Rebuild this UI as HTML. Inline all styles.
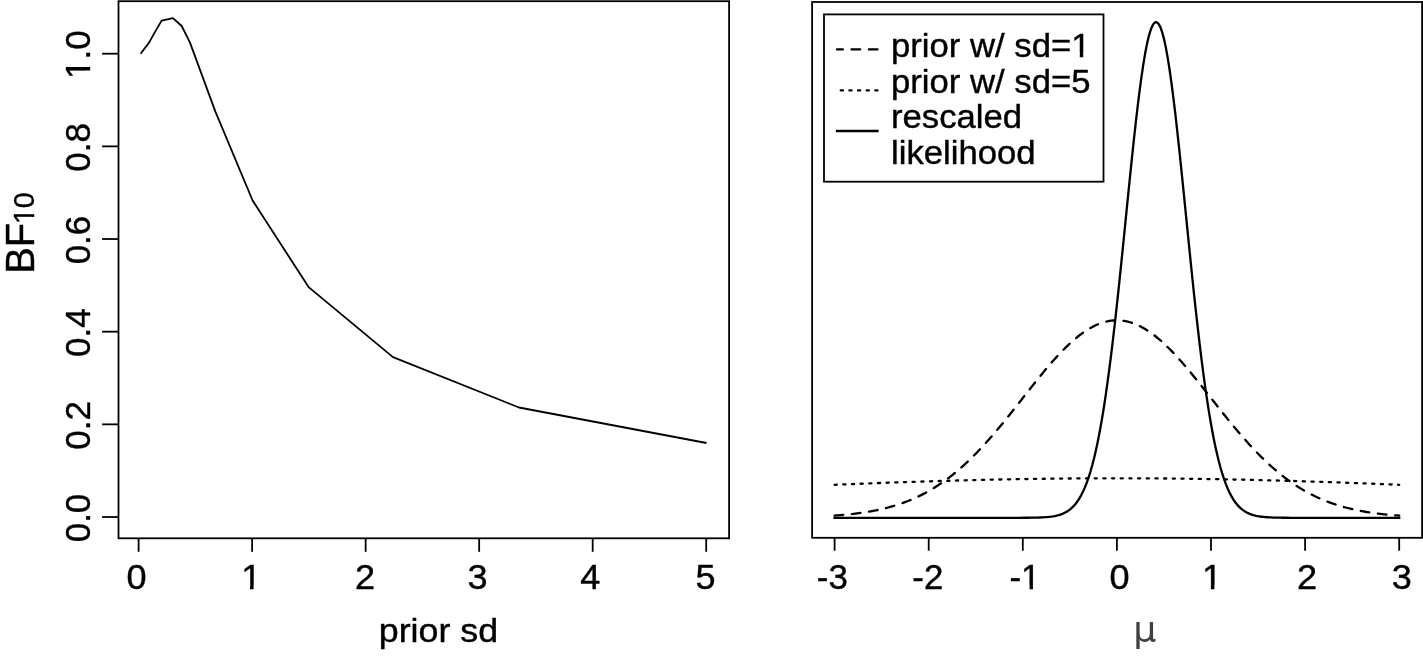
<!DOCTYPE html>
<html lang="en"><head><meta charset="utf-8"><title>BF10 vs prior sd</title>
<style>html,body{margin:0;padding:0;background:#fff;}body{width:1423px;height:662px;overflow:hidden;}svg{display:block;}text{font-family:"Liberation Sans",sans-serif;fill:#000;}</style>
</head><body>
<svg width="1423" height="662" viewBox="0 0 1423 662">
<rect x="0" y="0" width="1423" height="662" fill="#fff"/>
<defs><clipPath id="ct2" clipPathUnits="userSpaceOnUse"><path clip-rule="evenodd" d="M-400,-400H400V400H-400ZM-8.08,-4.04H-1.12V3.00H-8.08ZM2.36,-4.04H9.27V3.00H2.36Z"/></clipPath><clipPath id="ct13" clipPathUnits="userSpaceOnUse"><path clip-rule="evenodd" d="M-400,-400H400V400H-400ZM-22.57,-4.01H-15.70V3.00H-22.57ZM-12.25,-4.01H-5.42V3.00H-12.25Z"/></clipPath><clipPath id="ct15" clipPathUnits="userSpaceOnUse"><path clip-rule="evenodd" d="M-400,-400H400V400H-400ZM1.47,-3.59H7.19V3.00H1.47ZM10.14,-3.59H15.82V3.00H10.14Z"/></clipPath><clipPath id="ct18" clipPathUnits="userSpaceOnUse"><path clip-rule="evenodd" d="M-400,-400H400V400H-400ZM-2.19,-4.04H4.76V3.00H-2.19ZM8.25,-4.04H15.16V3.00H8.25Z"/></clipPath><clipPath id="ct20" clipPathUnits="userSpaceOnUse"><path clip-rule="evenodd" d="M-400,-400H400V400H-400ZM-8.08,-4.04H-1.12V3.00H-8.08ZM2.36,-4.04H9.27V3.00H2.36Z"/></clipPath><clipPath id="ct23" clipPathUnits="userSpaceOnUse"><path clip-rule="evenodd" d="M-400,-400H400V400H-400ZM175.67,-3.90H182.24V3.00H175.67ZM185.56,-3.90H192.09V3.00H185.56Z"/></clipPath></defs>
<g fill="none" stroke="#000" stroke-width="1.80" stroke-linecap="butt">
<rect x="118.50" y="1.20" width="610.60" height="537.10"/>
<line x1="138.60" y1="538.30" x2="138.60" y2="551.80"/>
<line x1="252.12" y1="538.30" x2="252.12" y2="551.80"/>
<line x1="365.64" y1="538.30" x2="365.64" y2="551.80"/>
<line x1="479.16" y1="538.30" x2="479.16" y2="551.80"/>
<line x1="592.68" y1="538.30" x2="592.68" y2="551.80"/>
<line x1="706.20" y1="538.30" x2="706.20" y2="551.80"/>
<line x1="102.10" y1="517.00" x2="118.50" y2="517.00"/>
<line x1="102.10" y1="424.34" x2="118.50" y2="424.34"/>
<line x1="102.10" y1="331.68" x2="118.50" y2="331.68"/>
<line x1="102.10" y1="239.02" x2="118.50" y2="239.02"/>
<line x1="102.10" y1="146.36" x2="118.50" y2="146.36"/>
<line x1="102.10" y1="53.70" x2="118.50" y2="53.70"/>
</g>
<polyline fill="none" stroke="#000" stroke-width="1.8" stroke-linejoin="round" stroke-linecap="butt" points="140.6,53.7 148.9,42.9 154.2,33.4 161.6,20.6 172.9,18.1 181.7,26.0 190.0,42.6 215.4,111.6 252.6,200.5 308.6,287.1 393.0,357.1 519.0,407.5 706.5,443.0"/>
<text id="t1" transform="translate(136.55,589.25) scale(1.0200,1.0000)" font-size="35.40" text-anchor="middle" stroke="#000" stroke-width="0.40" stroke-linejoin="round">0</text>
<text id="t2" transform="translate(251.20,589.25) scale(1.0200,1.0000)" font-size="35.40" text-anchor="middle" stroke="#000" stroke-width="0.40" stroke-linejoin="round" clip-path="url(#ct2)">1</text>
<text id="t3" transform="translate(364.95,589.25) scale(1.0200,1.0000)" font-size="35.40" text-anchor="middle" stroke="#000" stroke-width="0.40" stroke-linejoin="round">2</text>
<text id="t4" transform="translate(477.45,589.25) scale(1.0200,1.0000)" font-size="35.40" text-anchor="middle" stroke="#000" stroke-width="0.40" stroke-linejoin="round">3</text>
<text id="t5" transform="translate(590.20,589.25) scale(1.0200,1.0000)" font-size="35.40" text-anchor="middle" stroke="#000" stroke-width="0.40" stroke-linejoin="round">4</text>
<text id="t6" transform="translate(705.60,589.25) scale(1.0200,1.0000)" font-size="35.40" text-anchor="middle" stroke="#000" stroke-width="0.40" stroke-linejoin="round">5</text>
<text id="t7" transform="translate(438.40,641.80) scale(1.0780,1.0000)" font-size="33.20" text-anchor="middle" stroke="#000" stroke-width="0.40" stroke-linejoin="round">prior sd</text>
<text id="t8" transform="translate(90.00,518.00) rotate(-90) scale(1.0000,1.0150)" font-size="35.00" text-anchor="middle" stroke="#000" stroke-width="0.40" stroke-linejoin="round">0.0</text>
<text id="t9" transform="translate(90.00,425.34) rotate(-90) scale(1.0000,1.0150)" font-size="35.00" text-anchor="middle" stroke="#000" stroke-width="0.40" stroke-linejoin="round">0.2</text>
<text id="t10" transform="translate(90.00,332.68) rotate(-90) scale(1.0000,1.0150)" font-size="35.00" text-anchor="middle" stroke="#000" stroke-width="0.40" stroke-linejoin="round">0.4</text>
<text id="t11" transform="translate(90.00,240.02) rotate(-90) scale(1.0000,1.0150)" font-size="35.00" text-anchor="middle" stroke="#000" stroke-width="0.40" stroke-linejoin="round">0.6</text>
<text id="t12" transform="translate(90.00,147.36) rotate(-90) scale(1.0000,1.0150)" font-size="35.00" text-anchor="middle" stroke="#000" stroke-width="0.40" stroke-linejoin="round">0.8</text>
<text id="t13" transform="translate(90.00,54.70) rotate(-90) scale(1.0000,1.0150)" font-size="35.00" text-anchor="middle" stroke="#000" stroke-width="0.40" stroke-linejoin="round" clip-path="url(#ct13)">1.0</text>
<text id="t14" transform="translate(34.00,273.80) rotate(-90) scale(0.9800,1.0000)" font-size="40.60" text-anchor="start" stroke="#000" stroke-width="0.40" stroke-linejoin="round">BF</text>
<text id="t15" transform="translate(34.40,224.00) rotate(-90) scale(0.9700,1.0000)" font-size="29.30" text-anchor="start" stroke="#000" stroke-width="0.40" stroke-linejoin="round" clip-path="url(#ct15)">10</text>
<g fill="none" stroke="#000" stroke-width="1.80" stroke-linecap="butt">
<rect x="812.10" y="2.00" width="610.00" height="535.80"/>
<line x1="834.60" y1="537.80" x2="834.60" y2="550.70"/>
<line x1="928.70" y1="537.80" x2="928.70" y2="550.70"/>
<line x1="1022.80" y1="537.80" x2="1022.80" y2="550.70"/>
<line x1="1116.90" y1="537.80" x2="1116.90" y2="550.70"/>
<line x1="1211.00" y1="537.80" x2="1211.00" y2="550.70"/>
<line x1="1305.10" y1="537.80" x2="1305.10" y2="550.70"/>
<line x1="1399.20" y1="537.80" x2="1399.20" y2="550.70"/>
</g>
<g fill="none" stroke="#000" stroke-width="2.30" stroke-linejoin="round">
<path stroke-linecap="round" stroke-dasharray="8.66 8.66" d="M834.60,515.61 L836.48,515.47 L838.36,515.33 L840.25,515.18 L842.13,515.02 L844.01,514.85 L845.89,514.68 L847.77,514.49 L849.66,514.30 L851.54,514.10 L853.42,513.88 L855.30,513.66 L857.18,513.42 L859.07,513.17 L860.95,512.91 L862.83,512.64 L864.71,512.36 L866.59,512.06 L868.48,511.75 L870.36,511.42 L872.24,511.08 L874.12,510.72 L876.00,510.35 L877.89,509.96 L879.77,509.55 L881.65,509.12 L883.53,508.68 L885.41,508.22 L887.30,507.74 L889.18,507.24 L891.06,506.71 L892.94,506.17 L894.82,505.61 L896.71,505.02 L898.59,504.41 L900.47,503.78 L902.35,503.12 L904.23,502.44 L906.12,501.73 L908.00,501.00 L909.88,500.24 L911.76,499.45 L913.64,498.64 L915.53,497.80 L917.41,496.93 L919.29,496.03 L921.17,495.10 L923.05,494.14 L924.94,493.15 L926.82,492.13 L928.70,491.07 L930.58,489.99 L932.46,488.87 L934.35,487.72 L936.23,486.54 L938.11,485.32 L939.99,484.07 L941.87,482.78 L943.76,481.46 L945.64,480.11 L947.52,478.72 L949.40,477.30 L951.28,475.84 L953.17,474.34 L955.05,472.81 L956.93,471.25 L958.81,469.65 L960.69,468.01 L962.58,466.34 L964.46,464.63 L966.34,462.89 L968.22,461.12 L970.10,459.31 L971.99,457.47 L973.87,455.60 L975.75,453.69 L977.63,451.75 L979.51,449.78 L981.40,447.78 L983.28,445.75 L985.16,443.68 L987.04,441.60 L988.92,439.48 L990.81,437.34 L992.69,435.17 L994.57,432.97 L996.45,430.76 L998.33,428.52 L1000.22,426.26 L1002.10,423.98 L1003.98,421.68 L1005.86,419.36 L1007.74,417.03 L1009.63,414.69 L1011.51,412.33 L1013.39,409.96 L1015.27,407.59 L1017.15,405.20 L1019.04,402.81 L1020.92,400.42 L1022.80,398.02 L1024.68,395.63 L1026.56,393.24 L1028.45,390.85 L1030.33,388.46 L1032.21,386.09 L1034.09,383.72 L1035.97,381.37 L1037.86,379.03 L1039.74,376.71 L1041.62,374.40 L1043.50,372.12 L1045.38,369.86 L1047.27,367.62 L1049.15,365.41 L1051.03,363.23 L1052.91,361.09 L1054.79,358.97 L1056.68,356.89 L1058.56,354.85 L1060.44,352.85 L1062.32,350.90 L1064.20,348.98 L1066.09,347.12 L1067.97,345.30 L1069.85,343.53 L1071.73,341.81 L1073.61,340.15 L1075.50,338.54 L1077.38,336.99 L1079.26,335.51 L1081.14,334.08 L1083.02,332.71 L1084.91,331.41 L1086.79,330.18 L1088.67,329.01 L1090.55,327.91 L1092.43,326.89 L1094.32,325.93 L1096.20,325.05 L1098.08,324.23 L1099.96,323.50 L1101.84,322.84 L1103.73,322.25 L1105.61,321.74 L1107.49,321.31 L1109.37,320.95 L1111.25,320.68 L1113.14,320.48 L1115.02,320.36 L1116.90,320.32 L1118.78,320.36 L1120.66,320.48 L1122.55,320.68 L1124.43,320.95 L1126.31,321.31 L1128.19,321.74 L1130.07,322.25 L1131.96,322.84 L1133.84,323.50 L1135.72,324.23 L1137.60,325.05 L1139.48,325.93 L1141.37,326.89 L1143.25,327.91 L1145.13,329.01 L1147.01,330.18 L1148.89,331.41 L1150.78,332.71 L1152.66,334.08 L1154.54,335.51 L1156.42,336.99 L1158.30,338.54 L1160.19,340.15 L1162.07,341.81 L1163.95,343.53 L1165.83,345.30 L1167.71,347.12 L1169.60,348.98 L1171.48,350.90 L1173.36,352.85 L1175.24,354.85 L1177.12,356.89 L1179.01,358.97 L1180.89,361.09 L1182.77,363.23 L1184.65,365.41 L1186.53,367.62 L1188.42,369.86 L1190.30,372.12 L1192.18,374.40 L1194.06,376.71 L1195.94,379.03 L1197.83,381.37 L1199.71,383.72 L1201.59,386.09 L1203.47,388.46 L1205.35,390.85 L1207.24,393.24 L1209.12,395.63 L1211.00,398.02 L1212.88,400.42 L1214.76,402.81 L1216.65,405.20 L1218.53,407.59 L1220.41,409.96 L1222.29,412.33 L1224.17,414.69 L1226.06,417.03 L1227.94,419.36 L1229.82,421.68 L1231.70,423.98 L1233.58,426.26 L1235.47,428.52 L1237.35,430.76 L1239.23,432.97 L1241.11,435.17 L1242.99,437.34 L1244.88,439.48 L1246.76,441.60 L1248.64,443.68 L1250.52,445.75 L1252.40,447.78 L1254.29,449.78 L1256.17,451.75 L1258.05,453.69 L1259.93,455.60 L1261.81,457.47 L1263.70,459.31 L1265.58,461.12 L1267.46,462.89 L1269.34,464.63 L1271.22,466.34 L1273.11,468.01 L1274.99,469.65 L1276.87,471.25 L1278.75,472.81 L1280.63,474.34 L1282.52,475.84 L1284.40,477.30 L1286.28,478.72 L1288.16,480.11 L1290.04,481.46 L1291.93,482.78 L1293.81,484.07 L1295.69,485.32 L1297.57,486.54 L1299.45,487.72 L1301.34,488.87 L1303.22,489.99 L1305.10,491.07 L1306.98,492.13 L1308.86,493.15 L1310.75,494.14 L1312.63,495.10 L1314.51,496.03 L1316.39,496.93 L1318.27,497.80 L1320.16,498.64 L1322.04,499.45 L1323.92,500.24 L1325.80,501.00 L1327.68,501.73 L1329.57,502.44 L1331.45,503.12 L1333.33,503.78 L1335.21,504.41 L1337.09,505.02 L1338.98,505.61 L1340.86,506.17 L1342.74,506.71 L1344.62,507.24 L1346.50,507.74 L1348.39,508.22 L1350.27,508.68 L1352.15,509.12 L1354.03,509.55 L1355.91,509.96 L1357.80,510.35 L1359.68,510.72 L1361.56,511.08 L1363.44,511.42 L1365.32,511.75 L1367.21,512.06 L1369.09,512.36 L1370.97,512.64 L1372.85,512.91 L1374.73,513.17 L1376.62,513.42 L1378.50,513.66 L1380.38,513.88 L1382.26,514.10 L1384.14,514.30 L1386.03,514.49 L1387.91,514.68 L1389.79,514.85 L1391.67,515.02 L1393.55,515.18 L1395.44,515.33 L1397.32,515.47 L1399.20,515.61"/>
<path stroke-linecap="round" stroke-dasharray="2.168 6.505" d="M834.60,484.81 L836.48,484.73 L838.36,484.65 L840.25,484.57 L842.13,484.50 L844.01,484.42 L845.89,484.34 L847.77,484.27 L849.66,484.19 L851.54,484.11 L853.42,484.04 L855.30,483.96 L857.18,483.89 L859.07,483.81 L860.95,483.74 L862.83,483.66 L864.71,483.59 L866.59,483.52 L868.48,483.44 L870.36,483.37 L872.24,483.30 L874.12,483.23 L876.00,483.16 L877.89,483.09 L879.77,483.02 L881.65,482.95 L883.53,482.88 L885.41,482.81 L887.30,482.74 L889.18,482.67 L891.06,482.60 L892.94,482.53 L894.82,482.47 L896.71,482.40 L898.59,482.34 L900.47,482.27 L902.35,482.20 L904.23,482.14 L906.12,482.08 L908.00,482.01 L909.88,481.95 L911.76,481.89 L913.64,481.82 L915.53,481.76 L917.41,481.70 L919.29,481.64 L921.17,481.58 L923.05,481.52 L924.94,481.46 L926.82,481.40 L928.70,481.34 L930.58,481.28 L932.46,481.23 L934.35,481.17 L936.23,481.11 L938.11,481.06 L939.99,481.00 L941.87,480.95 L943.76,480.89 L945.64,480.84 L947.52,480.78 L949.40,480.73 L951.28,480.68 L953.17,480.63 L955.05,480.57 L956.93,480.52 L958.81,480.47 L960.69,480.42 L962.58,480.37 L964.46,480.32 L966.34,480.28 L968.22,480.23 L970.10,480.18 L971.99,480.13 L973.87,480.09 L975.75,480.04 L977.63,480.00 L979.51,479.95 L981.40,479.91 L983.28,479.87 L985.16,479.82 L987.04,479.78 L988.92,479.74 L990.81,479.70 L992.69,479.66 L994.57,479.62 L996.45,479.58 L998.33,479.54 L1000.22,479.50 L1002.10,479.46 L1003.98,479.43 L1005.86,479.39 L1007.74,479.35 L1009.63,479.32 L1011.51,479.28 L1013.39,479.25 L1015.27,479.22 L1017.15,479.18 L1019.04,479.15 L1020.92,479.12 L1022.80,479.09 L1024.68,479.06 L1026.56,479.03 L1028.45,479.00 L1030.33,478.97 L1032.21,478.94 L1034.09,478.91 L1035.97,478.88 L1037.86,478.86 L1039.74,478.83 L1041.62,478.81 L1043.50,478.78 L1045.38,478.76 L1047.27,478.73 L1049.15,478.71 L1051.03,478.69 L1052.91,478.67 L1054.79,478.65 L1056.68,478.63 L1058.56,478.61 L1060.44,478.59 L1062.32,478.57 L1064.20,478.55 L1066.09,478.53 L1067.97,478.52 L1069.85,478.50 L1071.73,478.49 L1073.61,478.47 L1075.50,478.46 L1077.38,478.44 L1079.26,478.43 L1081.14,478.42 L1083.02,478.41 L1084.91,478.40 L1086.79,478.39 L1088.67,478.38 L1090.55,478.37 L1092.43,478.36 L1094.32,478.35 L1096.20,478.34 L1098.08,478.34 L1099.96,478.33 L1101.84,478.32 L1103.73,478.32 L1105.61,478.32 L1107.49,478.31 L1109.37,478.31 L1111.25,478.31 L1113.14,478.31 L1115.02,478.31 L1116.90,478.30 L1118.78,478.31 L1120.66,478.31 L1122.55,478.31 L1124.43,478.31 L1126.31,478.31 L1128.19,478.32 L1130.07,478.32 L1131.96,478.32 L1133.84,478.33 L1135.72,478.34 L1137.60,478.34 L1139.48,478.35 L1141.37,478.36 L1143.25,478.37 L1145.13,478.38 L1147.01,478.39 L1148.89,478.40 L1150.78,478.41 L1152.66,478.42 L1154.54,478.43 L1156.42,478.44 L1158.30,478.46 L1160.19,478.47 L1162.07,478.49 L1163.95,478.50 L1165.83,478.52 L1167.71,478.53 L1169.60,478.55 L1171.48,478.57 L1173.36,478.59 L1175.24,478.61 L1177.12,478.63 L1179.01,478.65 L1180.89,478.67 L1182.77,478.69 L1184.65,478.71 L1186.53,478.73 L1188.42,478.76 L1190.30,478.78 L1192.18,478.81 L1194.06,478.83 L1195.94,478.86 L1197.83,478.88 L1199.71,478.91 L1201.59,478.94 L1203.47,478.97 L1205.35,479.00 L1207.24,479.03 L1209.12,479.06 L1211.00,479.09 L1212.88,479.12 L1214.76,479.15 L1216.65,479.18 L1218.53,479.22 L1220.41,479.25 L1222.29,479.28 L1224.17,479.32 L1226.06,479.35 L1227.94,479.39 L1229.82,479.43 L1231.70,479.46 L1233.58,479.50 L1235.47,479.54 L1237.35,479.58 L1239.23,479.62 L1241.11,479.66 L1242.99,479.70 L1244.88,479.74 L1246.76,479.78 L1248.64,479.82 L1250.52,479.87 L1252.40,479.91 L1254.29,479.95 L1256.17,480.00 L1258.05,480.04 L1259.93,480.09 L1261.81,480.13 L1263.70,480.18 L1265.58,480.23 L1267.46,480.28 L1269.34,480.32 L1271.22,480.37 L1273.11,480.42 L1274.99,480.47 L1276.87,480.52 L1278.75,480.57 L1280.63,480.63 L1282.52,480.68 L1284.40,480.73 L1286.28,480.78 L1288.16,480.84 L1290.04,480.89 L1291.93,480.95 L1293.81,481.00 L1295.69,481.06 L1297.57,481.11 L1299.45,481.17 L1301.34,481.23 L1303.22,481.28 L1305.10,481.34 L1306.98,481.40 L1308.86,481.46 L1310.75,481.52 L1312.63,481.58 L1314.51,481.64 L1316.39,481.70 L1318.27,481.76 L1320.16,481.82 L1322.04,481.89 L1323.92,481.95 L1325.80,482.01 L1327.68,482.08 L1329.57,482.14 L1331.45,482.20 L1333.33,482.27 L1335.21,482.34 L1337.09,482.40 L1338.98,482.47 L1340.86,482.53 L1342.74,482.60 L1344.62,482.67 L1346.50,482.74 L1348.39,482.81 L1350.27,482.88 L1352.15,482.95 L1354.03,483.02 L1355.91,483.09 L1357.80,483.16 L1359.68,483.23 L1361.56,483.30 L1363.44,483.37 L1365.32,483.44 L1367.21,483.52 L1369.09,483.59 L1370.97,483.66 L1372.85,483.74 L1374.73,483.81 L1376.62,483.89 L1378.50,483.96 L1380.38,484.04 L1382.26,484.11 L1384.14,484.19 L1386.03,484.27 L1387.91,484.34 L1389.79,484.42 L1391.67,484.50 L1393.55,484.57 L1395.44,484.65 L1397.32,484.73 L1399.20,484.81"/>
<path stroke-linecap="square" d="M834.60,517.80 L836.48,517.80 L838.36,517.80 L840.25,517.80 L842.13,517.80 L844.01,517.80 L845.89,517.80 L847.77,517.80 L849.66,517.80 L851.54,517.80 L853.42,517.80 L855.30,517.80 L857.18,517.80 L859.07,517.80 L860.95,517.80 L862.83,517.80 L864.71,517.80 L866.59,517.80 L868.48,517.80 L870.36,517.80 L872.24,517.80 L874.12,517.80 L876.00,517.80 L877.89,517.80 L879.77,517.80 L881.65,517.80 L883.53,517.80 L885.41,517.80 L887.30,517.80 L889.18,517.80 L891.06,517.80 L892.94,517.80 L894.82,517.80 L896.71,517.80 L898.59,517.80 L900.47,517.80 L902.35,517.80 L904.23,517.80 L906.12,517.80 L908.00,517.80 L909.88,517.80 L911.76,517.80 L913.64,517.80 L915.53,517.80 L917.41,517.80 L919.29,517.80 L921.17,517.80 L923.05,517.80 L924.94,517.80 L926.82,517.80 L928.70,517.80 L930.58,517.80 L932.46,517.80 L934.35,517.80 L936.23,517.80 L938.11,517.80 L939.99,517.80 L941.87,517.80 L943.76,517.80 L945.64,517.80 L947.52,517.80 L949.40,517.80 L951.28,517.80 L953.17,517.80 L955.05,517.80 L956.93,517.80 L958.81,517.80 L960.69,517.80 L962.58,517.80 L964.46,517.80 L966.34,517.80 L968.22,517.80 L970.10,517.80 L971.99,517.80 L973.87,517.80 L975.75,517.80 L977.63,517.80 L979.51,517.80 L981.40,517.80 L983.28,517.80 L985.16,517.80 L987.04,517.80 L988.92,517.80 L990.81,517.80 L992.69,517.80 L994.57,517.80 L996.45,517.80 L998.33,517.80 L1000.22,517.80 L1002.10,517.80 L1003.98,517.80 L1005.86,517.80 L1007.74,517.80 L1009.63,517.80 L1011.51,517.80 L1013.39,517.79 L1015.27,517.79 L1017.15,517.79 L1019.04,517.78 L1020.92,517.78 L1022.80,517.77 L1024.68,517.76 L1026.56,517.75 L1028.45,517.74 L1030.33,517.72 L1032.21,517.69 L1034.09,517.66 L1035.97,517.63 L1037.86,517.58 L1039.74,517.51 L1041.62,517.44 L1043.50,517.34 L1045.38,517.22 L1047.27,517.07 L1049.15,516.89 L1051.03,516.67 L1052.91,516.39 L1054.79,516.06 L1056.68,515.66 L1058.56,515.17 L1060.44,514.59 L1062.32,513.90 L1064.20,513.07 L1066.09,512.08 L1067.97,510.92 L1069.85,509.56 L1071.73,507.96 L1073.61,506.11 L1075.50,503.95 L1077.38,501.46 L1079.26,498.60 L1081.14,495.33 L1083.02,491.60 L1084.91,487.37 L1086.79,482.60 L1088.67,477.24 L1090.55,471.24 L1092.43,464.56 L1094.32,457.17 L1096.20,449.02 L1098.08,440.07 L1099.96,430.30 L1101.84,419.69 L1103.73,408.23 L1105.61,395.89 L1107.49,382.70 L1109.37,368.67 L1111.25,353.82 L1113.14,338.20 L1115.02,321.85 L1116.90,304.85 L1118.78,287.28 L1120.66,269.23 L1122.55,250.81 L1124.43,232.14 L1126.31,213.36 L1128.19,194.61 L1130.07,176.04 L1131.96,157.82 L1133.84,140.10 L1135.72,123.05 L1137.60,106.85 L1139.48,91.64 L1141.37,77.60 L1143.25,64.87 L1145.13,53.58 L1147.01,43.87 L1148.89,35.84 L1150.78,29.59 L1152.66,25.18 L1154.54,22.68 L1156.42,22.10 L1158.30,23.45 L1160.19,26.72 L1162.07,31.87 L1163.95,38.85 L1165.83,47.56 L1167.71,57.91 L1169.60,69.79 L1171.48,83.07 L1173.36,97.59 L1175.24,113.22 L1177.12,129.78 L1179.01,147.11 L1180.89,165.06 L1182.77,183.44 L1184.65,202.10 L1186.53,220.88 L1188.42,239.63 L1190.30,258.21 L1192.18,276.50 L1194.06,294.37 L1195.94,311.72 L1197.83,328.47 L1199.71,344.54 L1201.59,359.86 L1203.47,374.38 L1205.35,388.08 L1207.24,400.93 L1209.12,412.92 L1211.00,424.04 L1212.88,434.31 L1214.76,443.75 L1216.65,452.37 L1218.53,460.22 L1220.41,467.32 L1222.29,473.72 L1224.17,479.46 L1226.06,484.58 L1227.94,489.13 L1229.82,493.15 L1231.70,496.69 L1233.58,499.79 L1235.47,502.50 L1237.35,504.85 L1239.23,506.88 L1241.11,508.63 L1242.99,510.13 L1244.88,511.41 L1246.76,512.50 L1248.64,513.41 L1250.52,514.19 L1252.40,514.84 L1254.29,515.38 L1256.17,515.83 L1258.05,516.20 L1259.93,516.51 L1261.81,516.76 L1263.70,516.97 L1265.58,517.14 L1267.46,517.27 L1269.34,517.38 L1271.22,517.47 L1273.11,517.54 L1274.99,517.60 L1276.87,517.64 L1278.75,517.68 L1280.63,517.70 L1282.52,517.73 L1284.40,517.74 L1286.28,517.76 L1288.16,517.77 L1290.04,517.78 L1291.93,517.78 L1293.81,517.79 L1295.69,517.79 L1297.57,517.79 L1299.45,517.79 L1301.34,517.80 L1303.22,517.80 L1305.10,517.80 L1306.98,517.80 L1308.86,517.80 L1310.75,517.80 L1312.63,517.80 L1314.51,517.80 L1316.39,517.80 L1318.27,517.80 L1320.16,517.80 L1322.04,517.80 L1323.92,517.80 L1325.80,517.80 L1327.68,517.80 L1329.57,517.80 L1331.45,517.80 L1333.33,517.80 L1335.21,517.80 L1337.09,517.80 L1338.98,517.80 L1340.86,517.80 L1342.74,517.80 L1344.62,517.80 L1346.50,517.80 L1348.39,517.80 L1350.27,517.80 L1352.15,517.80 L1354.03,517.80 L1355.91,517.80 L1357.80,517.80 L1359.68,517.80 L1361.56,517.80 L1363.44,517.80 L1365.32,517.80 L1367.21,517.80 L1369.09,517.80 L1370.97,517.80 L1372.85,517.80 L1374.73,517.80 L1376.62,517.80 L1378.50,517.80 L1380.38,517.80 L1382.26,517.80 L1384.14,517.80 L1386.03,517.80 L1387.91,517.80 L1389.79,517.80 L1391.67,517.80 L1393.55,517.80 L1395.44,517.80 L1397.32,517.80 L1399.20,517.80"/>
</g>
<text id="t16" transform="translate(832.35,589.25) scale(0.9850,1.0000)" font-size="35.40" text-anchor="middle" stroke="#000" stroke-width="0.40" stroke-linejoin="round">-3</text>
<text id="t17" transform="translate(927.80,589.25) scale(0.9850,1.0000)" font-size="35.40" text-anchor="middle" stroke="#000" stroke-width="0.40" stroke-linejoin="round">-2</text>
<text id="t18" transform="translate(1024.90,589.25) scale(0.9850,1.0000)" font-size="35.40" text-anchor="middle" stroke="#000" stroke-width="0.40" stroke-linejoin="round" clip-path="url(#ct18)">-1</text>
<text id="t19" transform="translate(1119.65,589.25) scale(1.0200,1.0000)" font-size="35.40" text-anchor="middle" stroke="#000" stroke-width="0.40" stroke-linejoin="round">0</text>
<text id="t20" transform="translate(1212.00,589.25) scale(1.0200,1.0000)" font-size="35.40" text-anchor="middle" stroke="#000" stroke-width="0.40" stroke-linejoin="round" clip-path="url(#ct20)">1</text>
<text id="t21" transform="translate(1306.95,589.25) scale(1.0200,1.0000)" font-size="35.40" text-anchor="middle" stroke="#000" stroke-width="0.40" stroke-linejoin="round">2</text>
<text id="t22" transform="translate(1401.85,589.25) scale(1.0200,1.0000)" font-size="35.40" text-anchor="middle" stroke="#000" stroke-width="0.40" stroke-linejoin="round">3</text>
<text transform="translate(1144.9,641.9) scale(1,0.975)" font-size="36.5" text-anchor="middle" style="font-family:'DejaVu Sans','Liberation Sans',sans-serif;fill:#404040">μ</text>
<rect x="824.0" y="14.4" width="279.5" height="167.3" fill="#fff" stroke="#000" stroke-width="1.80"/>
<g fill="none" stroke="#000" stroke-width="2.30">
<path stroke-linecap="round" stroke-dasharray="8.66 8.66" d="M877.5,49.4 L837.0,49.4"/>
<path stroke-linecap="round" stroke-dasharray="2.16 6.49" d="M877.5,90.4 L837.0,90.4"/>
<path stroke-linecap="square" d="M877.5,131.0 L837.0,131.0"/>
</g>
<text id="t23" transform="translate(891.00,56.50) scale(1.0360,1.0000)" font-size="33.50" text-anchor="start" stroke="#000" stroke-width="0.40" stroke-linejoin="round" clip-path="url(#ct23)">prior w/ sd=1</text>
<text id="t24" transform="translate(891.00,92.50) scale(1.0360,1.0000)" font-size="33.50" text-anchor="start" stroke="#000" stroke-width="0.40" stroke-linejoin="round">prior w/ sd=5</text>
<text id="t25" transform="translate(891.00,128.00) scale(1.0360,1.0000)" font-size="33.50" text-anchor="start" stroke="#000" stroke-width="0.40" stroke-linejoin="round">rescaled</text>
<text id="t26" transform="translate(891.00,164.30) scale(1.0360,1.0000)" font-size="33.50" text-anchor="start" stroke="#000" stroke-width="0.40" stroke-linejoin="round">likelihood</text>
</svg>
</body></html>
